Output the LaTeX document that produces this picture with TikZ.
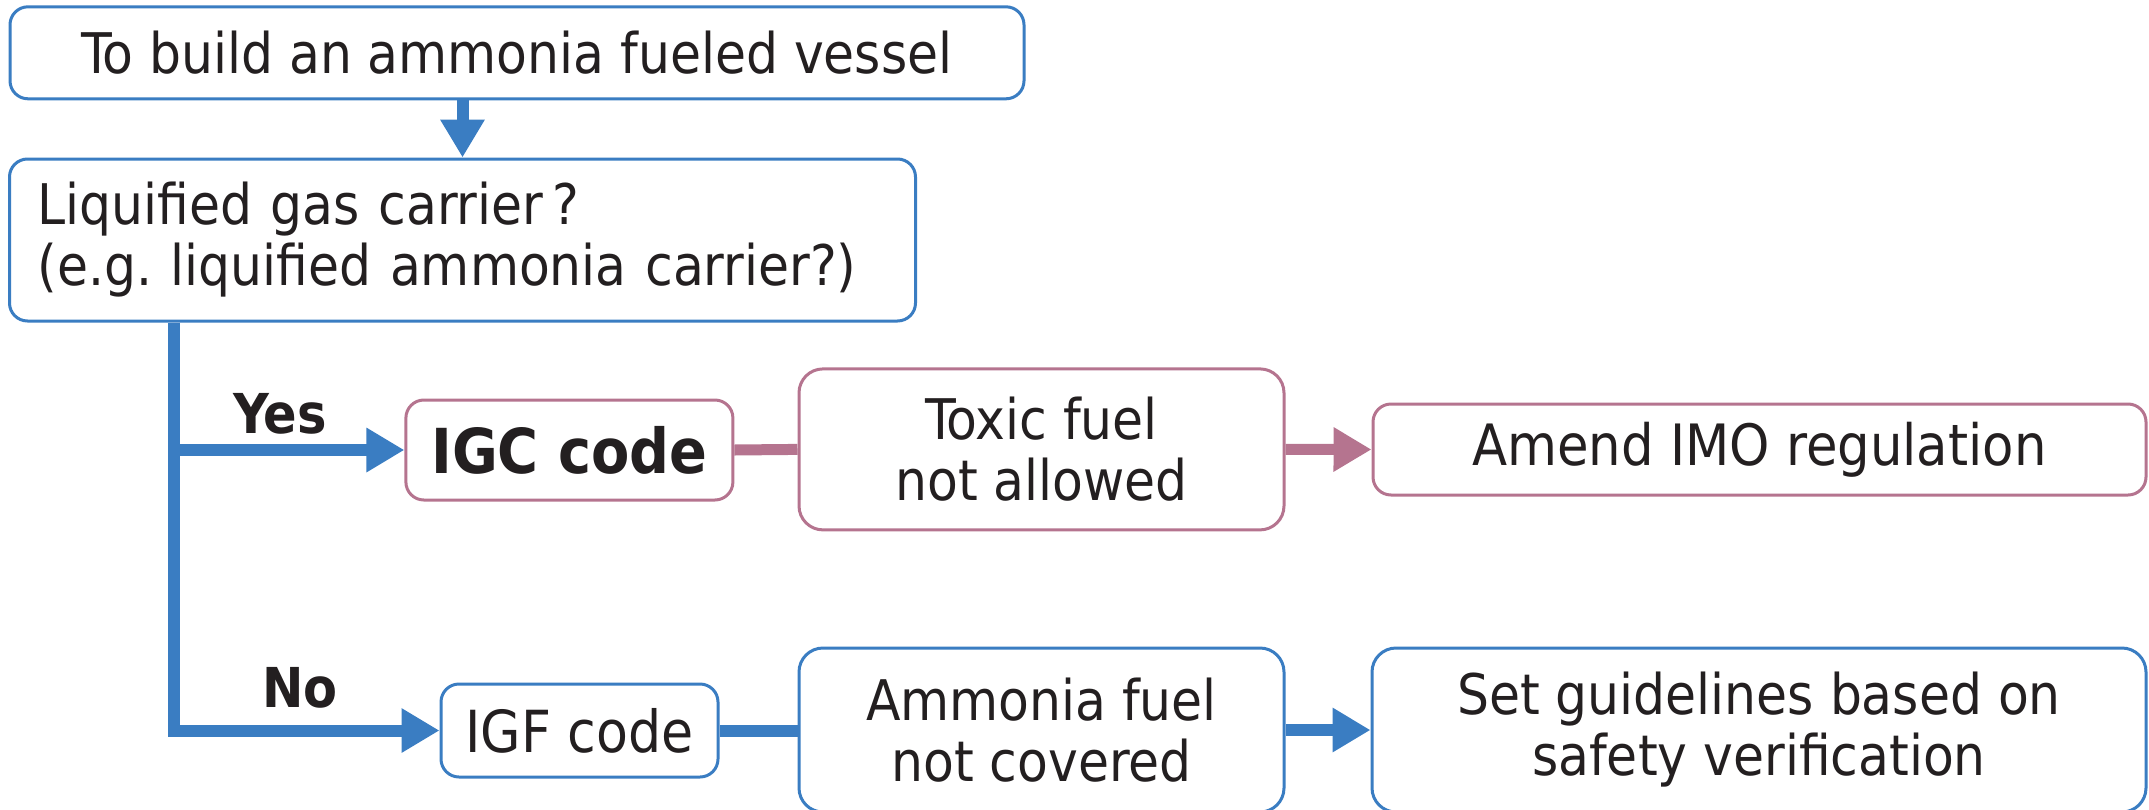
\documentclass[tikz,border=0pt]{standalone}
\usepackage{fontspec}
\setmainfont{DejaVu Sans Condensed}
\usetikzlibrary{arrows.meta}
\frenchspacing
\definecolor{fblue}{HTML}{3A7DC2}
\definecolor{fpink}{HTML}{B5748F}
\definecolor{ftext}{HTML}{231F20}
\tikzset{
  box/.style={draw, line width=3pt, rounded corners=18pt, fill=white, text=ftext,
    inner sep=0pt, align=center, font=\fontsize{56}{61}\selectfont},
  bbox/.style={box, draw=fblue},
  pbox/.style={box, draw=fpink},
  bconn/.style={draw=fblue, line width=12pt},
  pconn/.style={draw=fpink, line width=11pt},
  barrow/.style={bconn, -{Triangle[length=38pt,width=42pt]}},
  parrow/.style={pconn, -{Triangle[length=38pt,width=42pt]}},
  lbl/.style={text=ftext, font=\fontsize{55}{60}\selectfont\bfseries}
}
\begin{document}
\begin{tikzpicture}[x=1pt,y=-1pt]
\useasboundingbox (0,0) rectangle (2149,809);
\node[bbox, minimum width=1014pt, minimum height=92pt] (A) at (517,52.8) {To build an ammonia fueled vessel};
\node[bbox, minimum width=906pt, minimum height=162pt, text width=850pt, align=left] (B) at (462.5,240) {Liquified gas carrier\,?\\(e.g. liquified ammonia carrier?)};
\node[pbox, minimum width=327pt, minimum height=100pt, font=\fontsize{62}{66}\selectfont\bfseries] (IGC) at (569.4,450) {IGC code};
\node[pbox, minimum width=485pt, minimum height=161pt, rounded corners=24pt] (TOX) at (1041.5,449.4) {Toxic fuel\\not allowed};
\node[pbox, minimum width=773pt, minimum height=91pt, font=\fontsize{57}{62}\selectfont] (AMD) at (1759.5,449.5) {Amend IMO regulation};
\node[bbox, minimum width=277pt, minimum height=93pt, font=\fontsize{58}{62}\selectfont] (IGF) at (579.5,730.5) {IGF code};
\node[bbox, minimum width=485pt, minimum height=164pt, rounded corners=24pt] (AMF) at (1041.5,730) {Ammonia fuel\\not covered};
\node[bbox, minimum width=774pt, minimum height=164pt, rounded corners=24pt] (SET) at (1759,730) {Set guidelines based on\\safety verification};
\coordinate (tx) at (174,0);
\draw[barrow] (A.south -| B.north) -- (B.north);
\draw[barrow, line join=miter] (B.south -| tx) |- (IGF.west);
\draw[barrow] (tx |- IGC.west) -- (IGC.west);
\draw[pconn] (IGC.east) -- (TOX.west);
\draw[parrow] (TOX.east) -- (AMD.west);
\draw[bconn] (IGF.east) -- (AMF.west |- IGF.east);
\draw[barrow] (AMF.east) -- (SET.west);
\node[lbl] (yes) at (280,414) {Yes};
\node[lbl] (no) at (300,688) {No};
\end{tikzpicture}
\end{document}
